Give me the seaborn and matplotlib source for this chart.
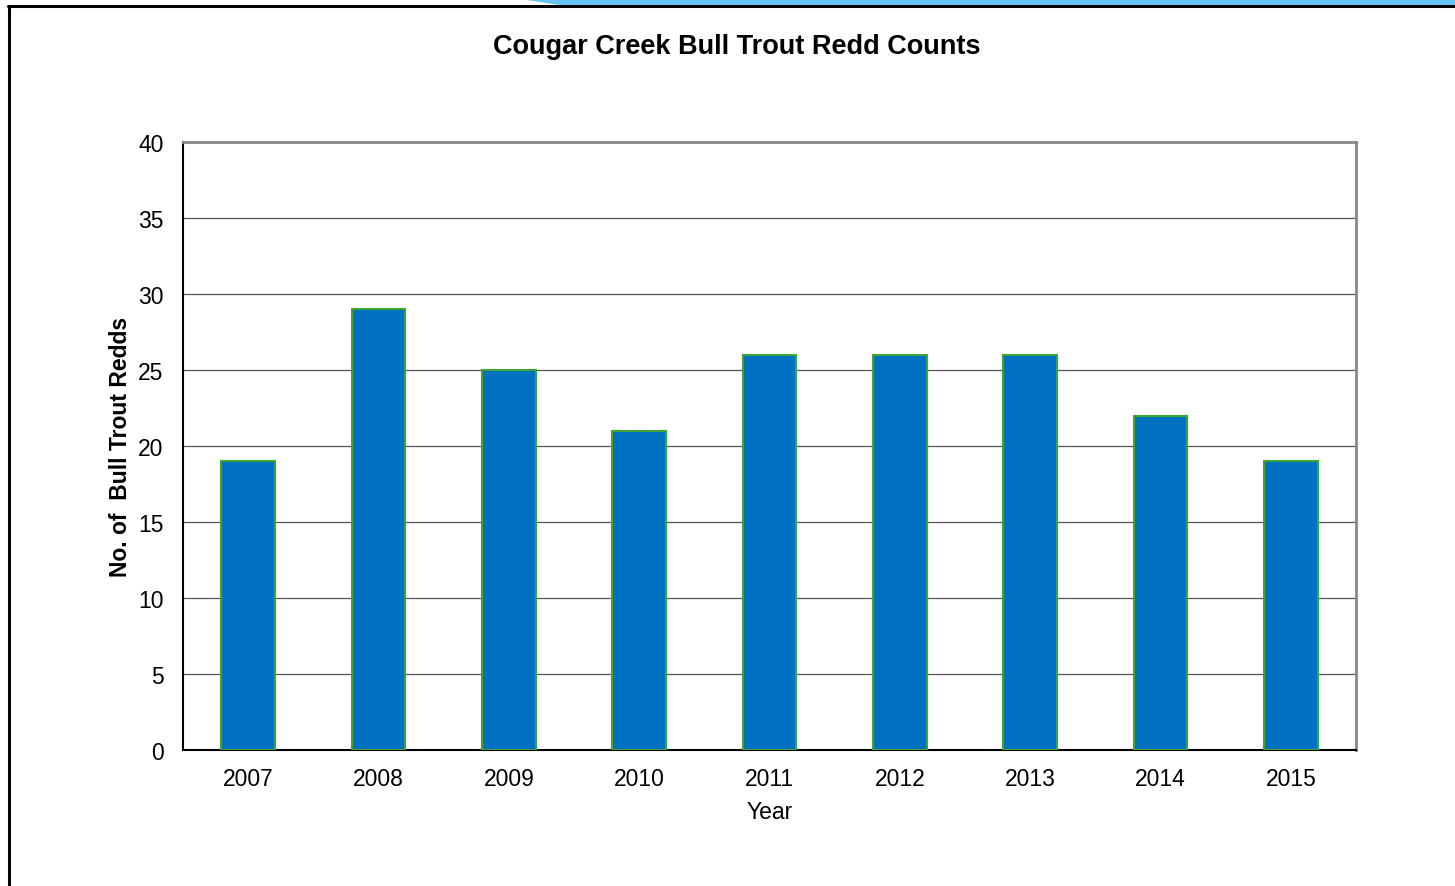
import matplotlib
matplotlib.use("Agg")
import matplotlib.pyplot as plt
import seaborn as sns
import pandas as pd
from matplotlib.patches import Polygon
from matplotlib.lines import Line2D

years = ["2007", "2008", "2009", "2010", "2011", "2012", "2013", "2014", "2015"]
redds = [19, 29, 25, 21, 26, 26, 26, 22, 19]
yticks = [0, 5, 10, 15, 20, 25, 30, 35, 40]

sns.set_theme(style="white")
plt.rcParams['font.family'] = ['Liberation Sans', 'DejaVu Sans']
plt.rcParams['text.color'] = 'black'
plt.rcParams['axes.labelcolor'] = 'black'

W, H = 1455, 887
fig = plt.figure(figsize=(W / 100, H / 100), dpi=100)
ax = fig.add_axes([183 / W, 1 - 751 / H, (1356 - 183) / W, (751 - 143) / H])

df = pd.DataFrame({"Year": years, "Redds": redds})
sns.barplot(data=df, x="Year", y="Redds", ax=ax, color="#0070C0", saturation=1,
            width=0.41, edgecolor="#3FA535", linewidth=1.5, zorder=3)

ax.set_ylim(0, 40)
ax.set_yticks(yticks)
ax.yaxis.grid(True, color="#555555", linewidth=0.9, zorder=0)
ax.set_axisbelow(True)
ax.tick_params(axis="both", labelsize=16.5, colors="black", length=0)
ax.tick_params(axis="x", pad=12)
ax.tick_params(axis="y", pad=14)
ax.set_xlabel("Year", fontsize=16.5)
ax.set_ylabel("No. of  Bull Trout Redds", fontsize=16.5, fontweight="bold")
ax.yaxis.set_label_coords(-0.0434, 0.5)
ax.xaxis.set_label_coords(0.5, -0.082)
for s in ["top", "right"]:
    ax.spines[s].set_color("#888888")
    ax.spines[s].set_linewidth(2)
for s in ["left", "bottom"]:
    ax.spines[s].set_color("black")
    ax.spines[s].set_linewidth(1.5)

fig.text(737 / W, 1 - 47 / H, "Cougar Creek Bull Trout Redd Counts", ha="center", va="center",
         fontsize=19.5, fontweight="bold", color="black")

# decorative top strip and frame
fig.patches.append(Polygon([(520 / W, 1), (1, 1), (1, 1 - 6 / H), (560 / W, 1 - 6 / H)],
                           closed=True, transform=fig.transFigure, facecolor="#66C4F5",
                           edgecolor="none", zorder=0))
fig.lines.append(Line2D([8 / W, 1], [1 - 7 / H, 1 - 7 / H], transform=fig.transFigure,
                        color="black", linewidth=2.2))
fig.lines.append(Line2D([9 / W, 9 / W], [0, 1 - 7 / H], transform=fig.transFigure,
                        color="black", linewidth=2.2))

fig.savefig("out.png", dpi=100)
